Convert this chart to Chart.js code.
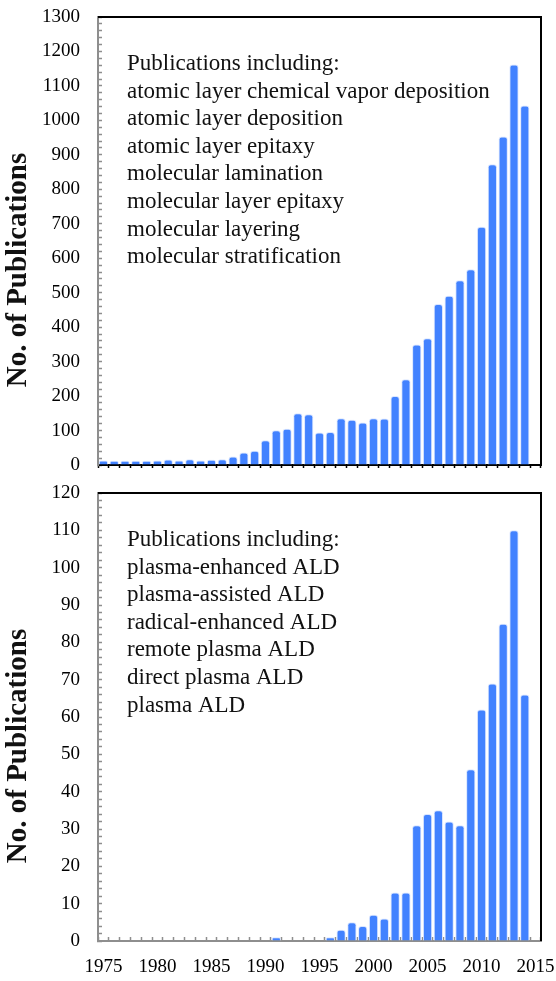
<!DOCTYPE html>
<html>
<head>
<meta charset="utf-8">
<script src="https://cdn.jsdelivr.net/npm/chart.js@4"></script>
<style>
  body { margin: 0; background: #fff; }
  canvas { position: absolute; left: 0; }
  #aldChart { top: 0; }
  #plasmaChart { top: 480px; }
</style>
</head>
<body>
<canvas id="aldChart" width="556" height="480"></canvas>
<canvas id="plasmaChart" width="556" height="501"></canvas>
<script>
// years 1975..2015 (2015 has no bar)
const years = [1975,1976,1977,1978,1979,1980,1981,1982,1983,1984,1985,1986,1987,1988,1989,
  1990,1991,1992,1993,1994,1995,1996,1997,1998,1999,2000,2001,2002,2003,2004,
  2005,2006,2007,2008,2009,2010,2011,2012,2013,2014,2015];

const aldCounts = [13,12,12,12,12,13,16,13,17,13,15,17,25,36,41,
  72,101,105,150,147,94,96,136,131,123,136,135,200,249,350,
  368,467,491,536,568,691,873,953,1162,1043,null];

const plasmaCounts = [0,0,0,0,0,0,0,0,0,0,0,0,0,0,0,
  0,1,0,0,0,0,1,3,5,4,7,6,13,13,31,
  34,35,32,31,46,62,69,85,110,66,null];

const aldTerms = ["Publications including:",
  "atomic layer chemical vapor deposition",
  "atomic layer deposition",
  "atomic layer epitaxy",
  "molecular lamination",
  "molecular layer epitaxy",
  "molecular layering",
  "molecular stratification"];

const plasmaTerms = ["Publications including:",
  "plasma-enhanced ALD",
  "plasma-assisted ALD",
  "radical-enhanced ALD",
  "remote plasma ALD",
  "direct plasma ALD",
  "plasma ALD"];

const yTitle = "No. of Publications";

const serif = "'Liberation Serif', 'Times New Roman', serif";
const grey = '#8e8e8e';

// black top/right frame, the term list and the rotated axis title
const framePlugin = {
  id: 'frame',
  afterDraw(chart, args, opts){
    const ctx = chart.ctx;
    const a = chart.chartArea;
    ctx.save();
    ctx.strokeStyle = '#000';
    ctx.lineWidth = 2;
    ctx.beginPath();
    ctx.moveTo(a.left, a.top);
    ctx.lineTo(a.right, a.top);
    ctx.lineTo(a.right, a.bottom);
    ctx.stroke();

    ctx.fillStyle = '#111';
    ctx.font = '23px ' + serif;
    ctx.textBaseline = 'middle';
    ctx.textAlign = 'left';
    opts.lines.forEach((t, i) => ctx.fillText(t, a.left + 29, a.top + 47 + i * 27.6));

    ctx.translate(19, a.top + 253);
    ctx.rotate(-Math.PI / 2);
    ctx.textAlign = 'center';
    ctx.font = 'bold 29px ' + serif;
    ctx.fillText(yTitle, 0, 0);
    ctx.restore();
  }
};

function noPad(s){
  s.paddingTop = 0;
  s.paddingBottom = 0;
  s.paddingLeft = 0;
  s.paddingRight = 0;
}

function makeChart(id, counts, terms, yMax, yStep, yLabelEvery, top){

  const bottomPanel = id === 'plasmaChart';

  return new Chart(document.getElementById(id), {
    type: 'bar',
    data: {
      labels: years,
      datasets: [{
        data: counts,
        backgroundColor: '#4282ff',
        borderColor: 'rgba(215,228,255,0.95)',
        borderWidth: 1,
        borderSkipped: 'bottom',
        borderRadius: {topLeft: 3, topRight: 3},
        barPercentage: 0.86,
        categoryPercentage: 1
      }]
    },
    options: {
      responsive: false,
      animation: false,
      layout: { padding: {top: top, right: 15, left: 0, bottom: 0} },
      plugins: {
        legend: {display: false},
        tooltip: {enabled: false},
        frame: {lines: terms}
      },
      scales: {
        x: {
          type: 'category',
          offset: true,
          border: {color: bottomPanel ? grey : '#000', width: 2},
          grid: {
            offset: true,
            drawOnChartArea: false,
            drawTicks: true,
            tickLength: bottomPanel ? -4 : 3,
            tickColor: bottomPanel ? grey : '#000',
            tickWidth: 1.5
          },
          ticks: {
            display: bottomPanel,
            autoSkip: false,
            maxRotation: 0,
            padding: 19,
            color: '#000',
            font: {family: serif, size: 19},
            callback: function(v, i){ return years[i] % 5 === 0 ? String(years[i]) : ''; }
          },
          afterFit: s => { s.height = bottomPanel ? 40 : 15; noPad(s); }
        },
        y: {
          min: 0,
          max: yMax,
          border: {color: grey, width: 2},
          grid: {
            drawOnChartArea: false,
            drawTicks: true,
            tickLength: -4,
            tickColor: grey,
            tickWidth: 1.5
          },
          ticks: {
            stepSize: yStep,
            autoSkip: false,
            maxTicksLimit: 200,
            padding: 22,
            color: '#000',
            font: {family: serif, size: 19},
            callback: v => (v % yLabelEvery === 0 ? v : '')
          },
          afterFit: s => { s.width = 98; noPad(s); }
        }
      }
    },
    plugins: [framePlugin]
  });
}

makeChart('aldChart', aldCounts, aldTerms, 1300, 20, 100, 17);
makeChart('plasmaChart', plasmaCounts, plasmaTerms, 120, 2, 10, 13);
</script>
</body>
</html>
